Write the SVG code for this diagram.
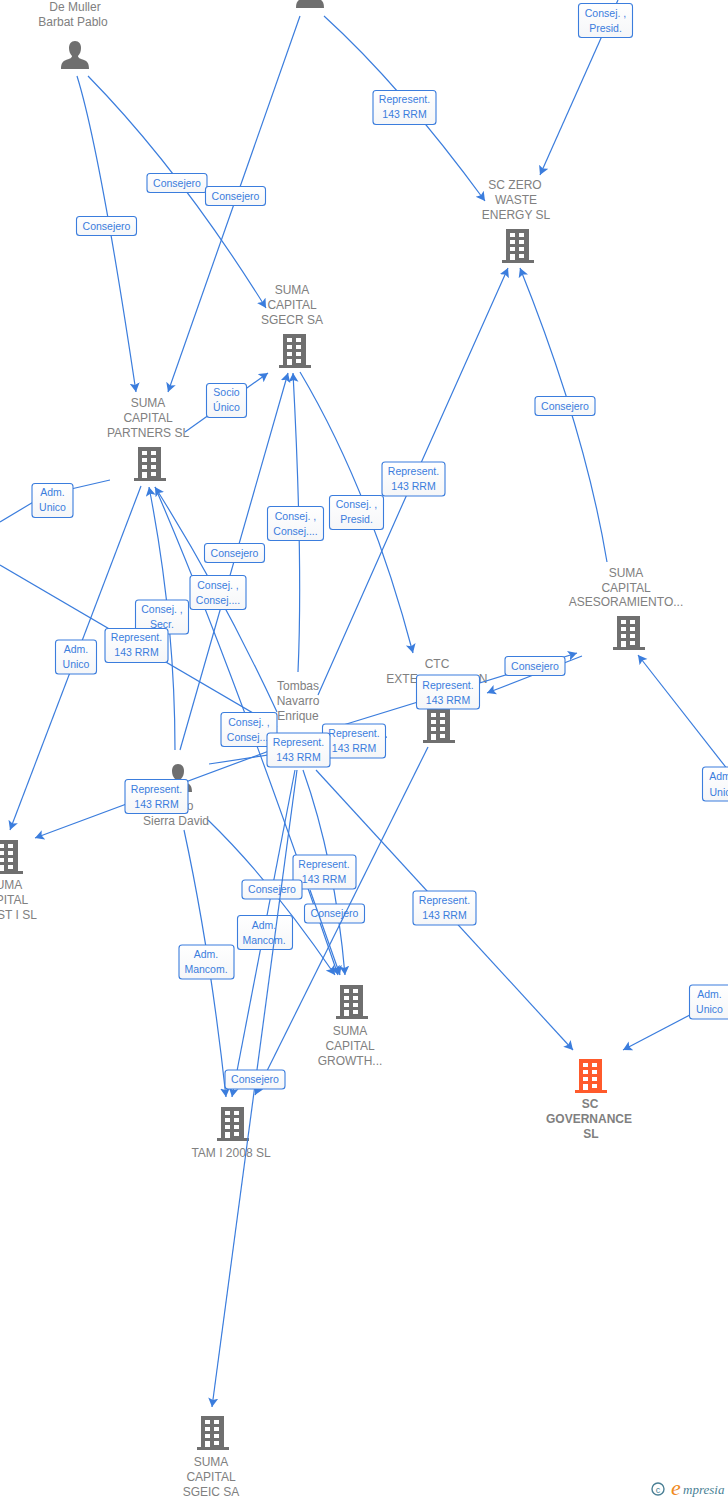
<svg xmlns="http://www.w3.org/2000/svg" width="728" height="1500" viewBox="0 0 728 1500">
<style>
.n{font:12px "Liberation Sans",Arial,sans-serif;fill:#808080;text-anchor:middle}
.b{font-weight:bold}
.l{font:10.5px "Liberation Sans",Arial,sans-serif;fill:#3b7ddd;text-anchor:middle}
.c{fill:none;stroke:#3b7ddd;stroke-width:1.2}
.a{marker-end:url(#ah)}
.r{fill:url(#g);stroke:#3b7ddd;stroke-width:1.1}
</style>
<defs>
<linearGradient id="g" x1="0" y1="0" x2="0" y2="1"><stop offset="0" stop-color="#fff"/><stop offset="1" stop-color="#f5f6f8"/></linearGradient>
<marker id="ah" markerUnits="userSpaceOnUse" markerWidth="12" markerHeight="12" refX="9" refY="5" orient="auto"><path d="M0 0L9 5L0 10L2 5Z" fill="#3b7ddd"/></marker>
<symbol id="bld" viewBox="0 0 32 34" overflow="visible"><path fill="currentColor" d="M4 0H27V31H32V34H0V31H4Z"/><path fill="#fff" d="M8 4h5v4h-5zM17 4h5v4h-5zM8 11h5v4h-5zM17 11h5v4h-5zM8 18h5v4h-5zM17 18h5v4h-5zM8 25h5v6h-5zM17 25h5v4h-5z"/></symbol>
<symbol id="per" viewBox="0 0 28 28" overflow="visible"><path fill="#6f6f6f" d="M14 0c4 0 6 3 6 7c0 3-1 6-3 8c0 2 3 3 6 4c3 1 5 3 5 9H0c0-6 2-8 5-9c3-1 6-2 6-4c-2-2-3-5-3-8c0-4 2-7 6-7Z"/></symbol>
</defs>
<rect width="728" height="1500" fill="#fff"/>
<g id="n-demuller"><text class="n" x="75" y="11">De Muller</text><text class="n" x="73" y="26">Barbat Pablo</text><use href="#per" x="61" y="41" width="28" height="28"/></g>
<g id="n-top"><use href="#per" x="296" y="-20" width="28" height="28"/></g>
<g id="n-sierra"><use href="#per" x="164" y="764" width="28" height="28"/><text class="n" x="190" y="810">o</text><text class="n" x="176" y="825">Sierra David</text></g>
<g id="n-tombas"><text class="n" x="298" y="690">Tombas</text><text class="n" x="298" y="705">Navarro</text><text class="n" x="298" y="720">Enrique</text></g>
<g id="n-sczero" style="color:#6f6f6f"><text class="n" x="515" y="189">SC ZERO</text><text class="n" x="516" y="204">WASTE</text><text class="n" x="516" y="219">ENERGY  SL</text><use href="#bld" x="502" y="229" width="32" height="34"/></g>
<g id="n-sgecr" style="color:#6f6f6f"><text class="n" x="292" y="294">SUMA</text><text class="n" x="292" y="309">CAPITAL</text><text class="n" x="292" y="324">SGECR SA</text><use href="#bld" x="279" y="334" width="32" height="34"/></g>
<g id="n-partners" style="color:#6f6f6f"><text class="n" x="148" y="407">SUMA</text><text class="n" x="148" y="422">CAPITAL</text><text class="n" x="148" y="437">PARTNERS  SL</text><use href="#bld" x="134" y="447" width="32" height="34"/></g>
<g id="n-asesor" style="color:#6f6f6f"><text class="n" x="626" y="577">SUMA</text><text class="n" x="626" y="592">CAPITAL</text><text class="n" x="626" y="606">ASESORAMIENTO...</text><use href="#bld" x="613" y="616" width="32" height="34"/></g>
<g id="n-ctc" style="color:#6f6f6f"><text class="n" x="437" y="668">CTC</text><text class="n" x="402" y="683">EXTE</text><text class="n" x="483" y="683">N</text><use href="#bld" x="423" y="709" width="32" height="34"/></g>
<g id="n-invest" style="color:#6f6f6f"><use href="#bld" x="-9" y="840" width="32" height="34"/><text class="n" x="9" y="889">UMA</text><text class="n" x="12" y="904">PITAL</text><text class="n" x="17" y="919">ST I  SL</text></g>
<g id="n-growth" style="color:#6f6f6f"><use href="#bld" x="336" y="985" width="32" height="34"/><text class="n" x="350" y="1035">SUMA</text><text class="n" x="350" y="1050">CAPITAL</text><text class="n" x="350" y="1065">GROWTH...</text></g>
<g id="n-governance" style="color:#ff5a2b"><use href="#bld" x="575" y="1059" width="32" height="34"/><text class="n b" x="590" y="1108">SC</text><text class="n b" x="589" y="1123">GOVERNANCE</text><text class="n b" x="591" y="1138">SL</text></g>
<g id="n-tam" style="color:#6f6f6f"><use href="#bld" x="217" y="1107" width="32" height="34"/><text class="n" x="231" y="1157">TAM I 2008 SL</text></g>
<g id="n-sgeic" style="color:#6f6f6f"><use href="#bld" x="197" y="1416" width="32" height="34"/><text class="n" x="211" y="1466">SUMA</text><text class="n" x="211" y="1481">CAPITAL</text><text class="n" x="211" y="1496">SGEIC SA</text></g>
<g id="connectors">
<path class="c a" d="M77 76Q100 150 136 392"/>
<path class="c a" d="M88 76Q180 170 266 308"/>
<path class="c a" d="M300 16L168 392"/>
<path class="c a" d="M324 16Q400 85 485 201"/>
<path class="c a" d="M618 0L540 175"/>
<path class="c a" d="M607 562Q585 430 520 268"/>
<path class="c a" d="M318 695L400 510L508 268"/>
<path class="c a" d="M185 432L268 373"/>
<path class="c a" d="M300 372Q370 490 413 653"/>
<path class="c a" d="M298 672Q303 560 293 373"/>
<path class="c a" d="M180 750L288 373"/>
<path class="c a" d="M277 712Q220 590 155 487"/>
<path class="c a" d="M175 750Q175 620 149 487"/>
<path class="c a" d="M141 486L10 830"/>
<path class="c" d="M110 480L45 495L0 522"/>
<path class="c" d="M0 565L277 727"/>
<path class="c a" d="M277 748L35 838"/>
<path class="c a" d="M155 487Q230 660 338 975"/>
<path class="c a" d="M209 764L387 737"/>
<path class="c a" d="M327 730L577 653"/>
<path class="c a" d="M582 656L487 693"/>
<path class="c a" d="M316 770L573 1050"/>
<path class="c a" d="M728 995L623 1050"/>
<path class="c a" d="M728 770L638 655"/>
<path class="c a" d="M303 770Q335 860 345 975"/>
<path class="c a" d="M208 820Q270 880 335 975"/>
<path class="c a" d="M184 830Q210 950 226 1097"/>
<path class="c a" d="M295 770L232 1097"/>
<g id="l1"><rect class="r" x="76.500" y="216.500" width="60" height="19" rx="3"/><text class="l" x="106.500" y="229.500">Consejero</text></g>
<g id="l2"><rect class="r" x="147" y="173.500" width="60" height="19" rx="3"/><text class="l" x="177" y="186.500">Consejero</text></g>
<g id="l3"><rect class="r" x="205.500" y="186.500" width="60" height="19" rx="3"/><text class="l" x="235.500" y="199.500">Consejero</text></g>
<g id="l4"><rect class="r" x="373" y="90.500" width="63" height="34" rx="3"/><text class="l" x="404.500" y="103">Represent.</text><text class="l" x="404.500" y="118">143 RRM</text></g>
<g id="l5"><rect class="r" x="578.500" y="3.500" width="54" height="34" rx="3"/><text class="l" x="605.500" y="17">Consej. ,</text><text class="l" x="605.500" y="32">Presid.</text></g>
<g id="l6"><rect class="r" x="535" y="396.500" width="60" height="19" rx="3"/><text class="l" x="565" y="409.500">Consejero</text></g>
<g id="l7"><rect class="r" x="382" y="462" width="63" height="34" rx="3"/><text class="l" x="413.500" y="475">Represent.</text><text class="l" x="413.500" y="490">143 RRM</text></g>
<g id="l8"><rect class="r" x="206.500" y="383.500" width="40" height="34" rx="3"/><text class="l" x="226.500" y="396">Socio</text><text class="l" x="226.500" y="411">Único</text></g>
<g id="l9"><rect class="r" x="329.500" y="495.500" width="54" height="34" rx="3"/><text class="l" x="356.500" y="508">Consej. ,</text><text class="l" x="356.500" y="523">Presid.</text></g>
<g id="l10"><rect class="r" x="267.500" y="506.500" width="56" height="34" rx="3"/><text class="l" x="295.500" y="520">Consej. ,</text><text class="l" x="295.500" y="535">Consej....</text></g>
<g id="l11"><rect class="r" x="204.500" y="543.500" width="60" height="19" rx="3"/><text class="l" x="234.500" y="556.500">Consejero</text></g>
<g id="l12"><rect class="r" x="190" y="575.500" width="56" height="34" rx="3"/><text class="l" x="218" y="589">Consej. ,</text><text class="l" x="218" y="604">Consej....</text></g>
<g id="l13"><rect class="r" x="135.500" y="600" width="53" height="34" rx="3"/><text class="l" x="162" y="613">Consej. ,</text><text class="l" x="162" y="628">Secr.</text></g>
<g id="l14"><rect class="r" x="55.500" y="640" width="41" height="34" rx="3"/><text class="l" x="76" y="653">Adm.</text><text class="l" x="76" y="668">Unico</text></g>
<g id="l15"><rect class="r" x="32" y="483.500" width="41" height="34" rx="3"/><text class="l" x="52.500" y="496">Adm.</text><text class="l" x="52.500" y="511">Unico</text></g>
<g id="l16"><rect class="r" x="105" y="628.500" width="63" height="34" rx="3"/><text class="l" x="136.500" y="641">Represent.</text><text class="l" x="136.500" y="656">143 RRM</text></g>
<g id="l20"><rect class="r" x="322.500" y="724" width="63" height="34" rx="3"/><text class="l" x="354" y="737">Represent.</text><text class="l" x="354" y="752">143 RRM</text></g>
<g id="l18"><rect class="r" x="221" y="712.500" width="56" height="34" rx="3"/><text class="l" x="249" y="726">Consej. ,</text><text class="l" x="249" y="741">Consej....</text></g>
<g id="l19"><rect class="r" x="267" y="733" width="63" height="34" rx="3"/><text class="l" x="298.500" y="746">Represent.</text><text class="l" x="298.500" y="761">143 RRM</text></g>
<g id="l21"><rect class="r" x="416.500" y="675" width="63" height="34" rx="3"/><text class="l" x="448" y="689">Represent.</text><text class="l" x="448" y="704">143 RRM</text></g>
<g id="l22"><rect class="r" x="505" y="656.500" width="60" height="19" rx="3"/><text class="l" x="535" y="670">Consejero</text></g>
<g id="l17"><rect class="r" x="125" y="779.500" width="63" height="34" rx="3"/><text class="l" x="156.500" y="793">Represent.</text><text class="l" x="156.500" y="808">143 RRM</text></g>
<g id="l23"><rect class="r" x="413" y="891" width="63" height="34" rx="3"/><text class="l" x="444.500" y="904">Represent.</text><text class="l" x="444.500" y="919">143 RRM</text></g>
<g id="l24"><rect class="r" x="689.500" y="985" width="41" height="34" rx="3"/><text class="l" x="709.500" y="998">Adm.</text><text class="l" x="709.500" y="1013">Unico</text></g>
<g id="l25"><rect class="r" x="702.500" y="767" width="41" height="34" rx="3"/><text class="l" x="720" y="780">Adm</text><text class="l" x="720" y="796">Unic</text></g>
<g id="l26"><rect class="r" x="293" y="855" width="63" height="34" rx="3"/><text class="l" x="324" y="868">Represent.</text><text class="l" x="324" y="883">143 RRM</text></g>
<g id="l27"><rect class="r" x="242" y="880" width="60" height="19" rx="3"/><text class="l" x="272" y="893">Consejero</text></g>
<g id="l29"><rect class="r" x="237.500" y="915.500" width="55" height="34" rx="3"/><text class="l" x="264" y="929">Adm.</text><text class="l" x="264" y="944">Mancom.</text></g>
<g id="l30"><rect class="r" x="179" y="945" width="55" height="34" rx="3"/><text class="l" x="206" y="958">Adm.</text><text class="l" x="206" y="973">Mancom.</text></g>
<g id="l28"><rect class="r" x="304.500" y="904" width="60" height="19" rx="3"/><text class="l" x="334.500" y="917">Consejero</text></g>
<path class="c a" d="M297 770L212 1407"/>
<path class="c a" d="M428 747L255 1095"/>
<path class="c a" d="M310 890L340 975"/>
<g id="l31"><rect class="r" x="225" y="1070" width="60" height="19" rx="3"/><text class="l" x="255" y="1083">Consejero</text></g>
</g>
<g id="logo"><circle cx="658" cy="1489" r="6" fill="none" stroke="#4a7f95" stroke-width="1.400"/><text x="658" y="1492.500" font-family="Liberation Sans,sans-serif" font-size="9" fill="#4a7f95" text-anchor="middle">c</text><text x="671" y="1495" font-family="Liberation Serif,serif" font-style="italic" font-size="22" fill="#f08a1d">e</text><text x="683" y="1494" font-family="Liberation Serif,serif" font-style="italic" font-size="13" fill="#4a7f95">mpresia</text></g>
</svg>
